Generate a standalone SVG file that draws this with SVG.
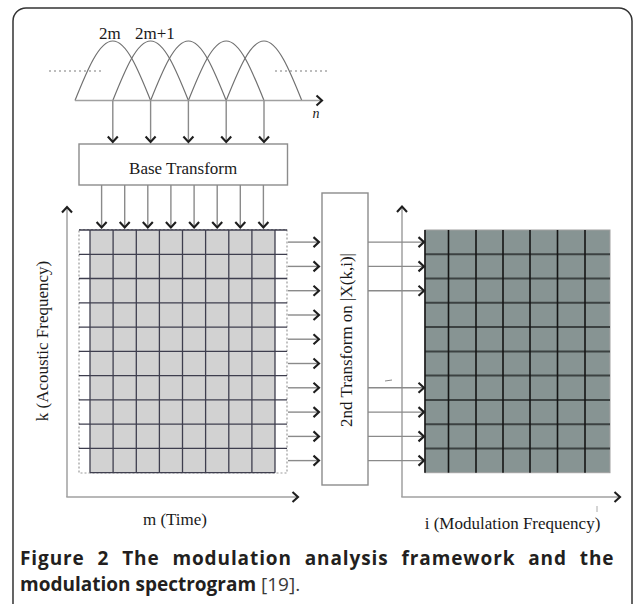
<svg xmlns="http://www.w3.org/2000/svg" width="635" height="604" viewBox="0 0 635 604">
<style>
.serif{font-family:"Liberation Serif","Times New Roman",serif;fill:#1a1a1a}
.conn{stroke:#8a8a8a;stroke-width:1.4;fill:none}
.axis{stroke:#a0a0a0;stroke-width:1.5;fill:none}
.box{fill:#fff;stroke:#8c8c8c;stroke-width:1.4}
.lg{stroke:#3e3e4e;stroke-width:1.3}
.rgv{stroke:#151515;stroke-width:1.6}
.rgh{stroke:#3c4242;stroke-width:2}
.hump{fill:none;stroke:#707070;stroke-width:1.2}
.dots{stroke:#a8a8a8;stroke-width:1.3;stroke-dasharray:2 3}
.cap{font-family:"Open Sans","Noto Sans",sans-serif;font-size:19px;fill:#231f20}
</style>
<defs>
<marker id="ah" markerUnits="userSpaceOnUse" markerWidth="16" markerHeight="16" viewBox="-8 -8 16 16" refX="0" refY="0" orient="auto" overflow="visible">
<path d="M-5.5,-5 L0,0 L-5.5,5" fill="none" stroke="#1e1e1e" stroke-width="2.1"/>
</marker>
</defs>

<rect id="frame" x="13" y="8" width="619" height="640" rx="13" fill="#fff" stroke="#333" stroke-width="1.5"/>

<g id="windows">
<line class="dots" x1="49" y1="71" x2="103" y2="71"/>
<line class="dots" x1="275" y1="71" x2="328" y2="71"/>
<path class="hump" d="M75,100.5 C87.3,69.8 99.1,41 112.8,41 C126.5,41 138.3,69.8 150.6,100.5"/>
<path class="hump" d="M112.8,100.5 C125.1,69.8 136.9,41 150.6,41 C164.3,41 176.1,69.8 188.4,100.5"/>
<path class="hump" d="M150.6,100.5 C162.9,69.8 174.7,41 188.4,41 C202.1,41 213.9,69.8 226.2,100.5"/>
<path class="hump" d="M188.4,100.5 C200.7,69.8 212.5,41 226.2,41 C239.9,41 251.7,69.8 264,100.5"/>
<path class="hump" d="M226.2,100.5 C238.5,69.8 250.3,41 264,41 C277.7,41 289.5,69.8 301.8,100.5"/>
<line class="axis" x1="75" y1="100.5" x2="322" y2="100.5" stroke="#9a9a9a" marker-end="url(#ah)"/>
<text class="serif" x="99" y="38.5" font-size="17">2m</text>
<text class="serif" x="135" y="38.5" font-size="17">2m+1</text>
<text class="serif" x="316" y="118" font-size="14" font-style="italic" text-anchor="middle">n</text>
</g>

<g id="base-transform">
<rect class="box" x="79" y="144" width="208.5" height="41"/>
<text class="serif" x="183.2" y="174" font-size="17" text-anchor="middle">Base Transform</text>
</g>

<g id="spectrogram">
<rect x="79" y="229.5" width="208" height="243.5" fill="#fff" stroke="#9a9a9a" stroke-width="1.2" stroke-dasharray="2 2"/>
<rect x="90" y="230" width="185" height="242.7" fill="#d2d2d2"/>
<g class="lg">
<line x1="90" y1="230" x2="90" y2="472.7"/>
<line x1="113.1" y1="230" x2="113.1" y2="472.7"/>
<line x1="136.3" y1="230" x2="136.3" y2="472.7"/>
<line x1="159.4" y1="230" x2="159.4" y2="472.7"/>
<line x1="182.5" y1="230" x2="182.5" y2="472.7"/>
<line x1="205.6" y1="230" x2="205.6" y2="472.7"/>
<line x1="228.8" y1="230" x2="228.8" y2="472.7"/>
<line x1="251.9" y1="230" x2="251.9" y2="472.7"/>
<line x1="275" y1="230" x2="275" y2="472.7"/>
<line x1="79" y1="230" x2="287" y2="230"/>
<line x1="79" y1="254.3" x2="287" y2="254.3"/>
<line x1="79" y1="278.5" x2="287" y2="278.5"/>
<line x1="79" y1="302.8" x2="287" y2="302.8"/>
<line x1="79" y1="327.1" x2="287" y2="327.1"/>
<line x1="79" y1="351.4" x2="287" y2="351.4"/>
<line x1="79" y1="375.6" x2="287" y2="375.6"/>
<line x1="79" y1="399.9" x2="287" y2="399.9"/>
<line x1="79" y1="424.2" x2="287" y2="424.2"/>
<line x1="79" y1="448.4" x2="287" y2="448.4"/>
<line x1="90" y1="472.7" x2="275" y2="472.7"/>
</g>
</g>

<g id="second-transform">
<rect class="box" x="322" y="193" width="46" height="292"/>
<text class="serif" font-size="17" text-anchor="middle" transform="translate(352,340) rotate(-90)">2nd Transform on |X(k,i)|</text>
</g>

<g id="modulation-spectrogram">
<rect x="425" y="230" width="185" height="242.7" fill="#879493" stroke="#a0a0a0" stroke-width="1"/>
<g class="rgh">
<line x1="425" y1="254.3" x2="610" y2="254.3"/>
<line x1="425" y1="278.5" x2="610" y2="278.5"/>
<line x1="425" y1="302.8" x2="610" y2="302.8"/>
<line x1="425" y1="327.1" x2="610" y2="327.1"/>
<line x1="425" y1="351.4" x2="610" y2="351.4"/>
<line x1="425" y1="375.6" x2="610" y2="375.6"/>
<line x1="425" y1="399.9" x2="610" y2="399.9"/>
<line x1="425" y1="424.2" x2="610" y2="424.2"/>
<line x1="425" y1="448.4" x2="610" y2="448.4"/>
</g>
<g class="rgv">
<line x1="425" y1="230" x2="425" y2="472.7"/>
<line x1="448.5" y1="230" x2="448.5" y2="472.7"/>
<line x1="476" y1="230" x2="476" y2="472.7"/>
<line x1="503" y1="230" x2="503" y2="472.7"/>
<line x1="530" y1="230" x2="530" y2="472.7"/>
<line x1="557.5" y1="230" x2="557.5" y2="472.7"/>
<line x1="585" y1="230" x2="585" y2="472.7"/>
</g>
</g>

<g id="axes">
<path class="axis" d="M67,497 L67,207" marker-end="url(#ah)"/>
<path class="axis" d="M66.3,497 L298,497" marker-end="url(#ah)"/>
<path class="axis" d="M402,497 L402,206.5" marker-end="url(#ah)"/>
<path class="axis" d="M401.3,497 L620,497" marker-end="url(#ah)"/>
<text class="serif" font-size="17" text-anchor="middle" transform="translate(48,341) rotate(-90)">k (Acoustic Frequency)</text>
<text class="serif" x="175" y="525" font-size="17" text-anchor="middle">m (Time)</text>
<text class="serif" x="512.5" y="529" font-size="17" text-anchor="middle">i (Modulation Frequency)</text>
<line x1="385" y1="381" x2="392" y2="380" stroke="#888" stroke-width="1"/>
<line x1="597" y1="506" x2="597" y2="512" stroke="#aaa" stroke-width="1"/>
</g>

<g id="connectors" class="conn" marker-end="url(#ah)">
<line x1="112.8" y1="100.5" x2="112.8" y2="142"/>
<line x1="150.6" y1="100.5" x2="150.6" y2="142"/>
<line x1="188.4" y1="100.5" x2="188.4" y2="142"/>
<line x1="226.2" y1="100.5" x2="226.2" y2="142"/>
<line x1="264" y1="100.5" x2="264" y2="142"/>
<line x1="101.6" y1="185" x2="101.6" y2="227.5"/>
<line x1="124.7" y1="185" x2="124.7" y2="227.5"/>
<line x1="147.8" y1="185" x2="147.8" y2="227.5"/>
<line x1="170.9" y1="185" x2="170.9" y2="227.5"/>
<line x1="194.1" y1="185" x2="194.1" y2="227.5"/>
<line x1="217.2" y1="185" x2="217.2" y2="227.5"/>
<line x1="240.3" y1="185" x2="240.3" y2="227.5"/>
<line x1="263.4" y1="185" x2="263.4" y2="227.5"/>
<line x1="288" y1="242.1" x2="319" y2="242.1"/>
<line x1="288" y1="266.4" x2="319" y2="266.4"/>
<line x1="288" y1="290.7" x2="319" y2="290.7"/>
<line x1="288" y1="315" x2="319" y2="315"/>
<line x1="288" y1="339.2" x2="319" y2="339.2"/>
<line x1="288" y1="363.5" x2="319" y2="363.5"/>
<line x1="288" y1="387.8" x2="319" y2="387.8"/>
<line x1="288" y1="412.1" x2="319" y2="412.1"/>
<line x1="288" y1="436.4" x2="319" y2="436.4"/>
<line x1="288" y1="460.6" x2="319" y2="460.6"/>
<line x1="368" y1="242.1" x2="424" y2="242.1"/>
<line x1="368" y1="266.4" x2="424" y2="266.4"/>
<line x1="368" y1="290.7" x2="424" y2="290.7"/>
<line x1="368" y1="387.8" x2="424" y2="387.8"/>
<line x1="368" y1="412.1" x2="424" y2="412.1"/>
<line x1="368" y1="436.4" x2="424" y2="436.4"/>
<line x1="368" y1="460.6" x2="424" y2="460.6"/>
</g>

<g id="caption">
<text class="cap" x="20" y="565" font-weight="bold" letter-spacing="0.9" word-spacing="7">Figure 2 The modulation analysis framework and the</text>
<text class="cap" x="20" y="591"><tspan font-weight="bold">modulation spectrogram</tspan> <tspan fill="#3a3a3a">[19].</tspan></text>
</g>
</svg>
